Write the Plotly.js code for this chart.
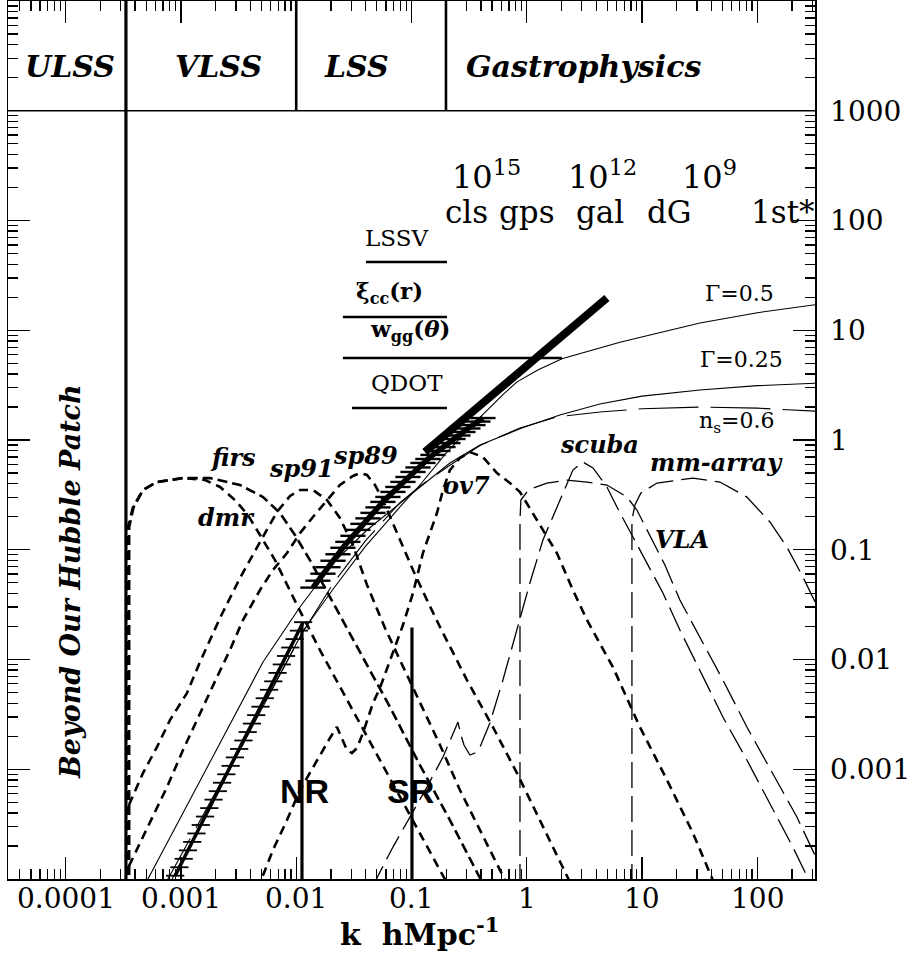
<!DOCTYPE html>
<html>
<head>
<meta charset="utf-8">
<script src="https://cdn.plot.ly/plotly-3.0.1.min.js"></script>
<style>html,body{margin:0;padding:0;background:#fff;}</style>
</head>
<body>
<div id="chart" style="width:913px;height:959px"></div>
<script>
// All curves are stored as log10(k [h/Mpc]) and log10(amplitude).
const pw = a => a.map(v => Math.pow(10, v));

// ---- model spectra ----
const gam05LogK = [-3.15, -3.077, -2.5, -1.941, -1.681, -1.4, -1.1, -0.927, -0.7, -0.45, -0.2, -0.085, 0.1, 0.305, 0.808, 1.502, 2.0, 2.55];
const gam05LogA = [-4.15, -4.0, -2.85, -1.74, -1.36, -0.97, -0.61, -0.41, -0.12, 0.16, 0.42, 0.53, 0.64, 0.74, 0.89, 1.066, 1.16, 1.24];

const gam025LogK = [-3.35, -3.286, -2.835, -2.288, -1.967, -1.681, -1.386, -1.1, -0.927, -0.667, -0.406, -0.042, 0.287, 0.634, 1.0, 1.502, 2.0, 2.55];
const gam025LogA = [-4.13, -4.0, -3.107, -2.023, -1.522, -1.121, -0.82, -0.58, -0.435, -0.21, -0.046, 0.109, 0.228, 0.328, 0.4, 0.455, 0.495, 0.52];

const tiltLogK = [-3.17, -3.112, -2.6, -1.941, -1.681, -1.4, -1.1, -0.927, -0.667, -0.406, -0.059, 0.261, 0.634, 1.0, 1.5, 2.0, 2.55];
const tiltLogA = [-4.11, -4.0, -3.02, -1.75, -1.31, -0.92, -0.57, -0.42, -0.23, -0.05, 0.11, 0.21, 0.255, 0.285, 0.3, 0.29, 0.26];

// ---- survey measurements ----
const lowDataLogK = [-3.05, -3.013, -2.976, -2.939, -2.902, -2.865, -2.828, -2.791, -2.754, -2.717, -2.68, -2.643, -2.606, -2.569, -2.532, -2.495, -2.458, -2.421, -2.384, -2.347, -2.31, -2.273, -2.236, -2.199, -2.162, -2.125, -2.088, -2.051, -2.014, -1.977, -1.94];
const lowDataLogA = [-3.97, -3.893, -3.816, -3.739, -3.662, -3.585, -3.508, -3.431, -3.354, -3.277, -3.2, -3.123, -3.046, -2.969, -2.892, -2.815, -2.738, -2.661, -2.584, -2.507, -2.43, -2.353, -2.276, -2.199, -2.122, -2.045, -1.968, -1.891, -1.814, -1.737, -1.66];

const midDataLogK = [-1.855, -1.812, -1.768, -1.725, -1.681, -1.638, -1.595, -1.552, -1.508, -1.465, -1.421, -1.378, -1.334, -1.291, -1.248, -1.205, -1.161, -1.118, -1.074, -1.031, -0.987, -0.944, -0.901, -0.858, -0.814, -0.771, -0.727, -0.684, -0.64, -0.597, -0.554, -0.511, -0.467, -0.424, -0.38];
const midDataLogA = [-1.345, -1.282, -1.218, -1.159, -1.1, -1.041, -0.982, -0.928, -0.873, -0.819, -0.764, -0.714, -0.664, -0.614, -0.564, -0.519, -0.473, -0.428, -0.382, -0.337, -0.291, -0.25, -0.209, -0.173, -0.136, -0.1, -0.064, -0.028, 0.009, 0.041, 0.073, 0.105, 0.136, 0.168, 0.2];

const lssvFitLogK = [-0.884, 0.695];
const lssvFitLogA = [-0.11, 1.294];

// ---- experiment window functions ----
const dmrLogK = [-3.459, -3.459, -3.416, -3.329, -3.208, -2.982, -2.791, -2.661, -2.531, -2.419, -2.314, -2.184, -1.993, -1.794, -1.534, -1.274, -1.013, -0.71, -0.649];
const dmrLogA = [-4.1, -0.793, -0.611, -0.456, -0.383, -0.347, -0.365, -0.428, -0.547, -0.684, -0.866, -1.094, -1.504, -1.914, -2.415, -2.916, -3.417, -3.991, -4.12];

const firsLogK = [-3.449, -3.449, -3.41, -3.329, -3.208, -2.982, -2.748, -2.488, -2.288, -2.141, -2.011, -1.881, -1.707, -1.447, -1.187, -0.927, -0.667, -0.406, -0.354];
const firsLogA = [-4.1, -0.793, -0.611, -0.456, -0.383, -0.347, -0.347, -0.41, -0.52, -0.665, -0.866, -1.094, -1.431, -1.932, -2.433, -2.962, -3.463, -3.991, -4.1];

const sp91LogK = [-3.451, -3.329, -3.208, -3.095, -2.948, -2.835, -2.661, -2.488, -2.314, -2.167, -2.054, -1.967, -1.855, -1.733, -1.621, -1.508, -1.386, -1.23, -1.1, -0.927, -0.753, -0.58, -0.406, -0.19, -0.146];
const sp91LogA = [-3.326, -3.035, -2.798, -2.552, -2.306, -2.023, -1.622, -1.258, -0.93, -0.656, -0.51, -0.456, -0.456, -0.547, -0.711, -0.957, -1.321, -1.713, -2.005, -2.397, -2.779, -3.189, -3.554, -4.009, -4.1];

const sp89LogK = [-3.451, -3.286, -3.121, -2.982, -2.835, -2.687, -2.575, -2.462, -2.314, -2.202, -2.08, -1.967, -1.855, -1.733, -1.621, -1.508, -1.447, -1.386, -1.317, -1.248, -1.1, -0.987, -0.866, -0.753, -0.519, -0.294, -0.085, 0.114, 0.357, 0.4];
const sp89LogA = [-3.882, -3.527, -3.162, -2.825, -2.488, -2.16, -1.914, -1.64, -1.367, -1.185, -1.03, -0.848, -0.702, -0.547, -0.41, -0.328, -0.301, -0.319, -0.41, -0.547, -0.911, -1.185, -1.458, -1.704, -2.187, -2.615, -3.035, -3.463, -3.991, -4.1];

const ov7LogK = [-2.332, -2.297, -2.202, -2.08, -1.967, -1.82, -1.707, -1.647, -1.612, -1.56, -1.517, -1.473, -1.421, -1.334, -1.274, -1.161, -1.074, -0.987, -0.901, -0.779, -0.727, -0.667, -0.58, -0.493, -0.38, -0.259, -0.146, -0.059, 0.088, 0.261, 0.4, 0.522, 0.747, 0.981, 1.216, 1.441, 1.606, 1.641];
const ov7LogA = [-4.1, -3.991, -3.736, -3.463, -3.189, -2.916, -2.715, -2.615, -2.697, -2.825, -2.852, -2.807, -2.67, -2.397, -2.26, -1.941, -1.686, -1.394, -1.03, -0.665, -0.456, -0.274, -0.164, -0.11, -0.155, -0.301, -0.392, -0.474, -0.729, -1.03, -1.367, -1.64, -2.069, -2.615, -3.098, -3.581, -3.991, -4.1];

const scubaLogK = [-1.343, -1.3, -1.161, -1.013, -0.866, -0.727, -0.649, -0.597, -0.571, -0.545, -0.493, -0.45, -0.406, -0.32, -0.207, -0.059, 0.027, 0.14, 0.227, 0.313, 0.4, 0.487, 0.574, 0.695, 0.782, 0.921, 1.042, 1.181, 1.328, 1.528, 1.701, 1.909, 2.109, 2.308, 2.438, 2.482];
const scubaLogA = [-4.1, -3.991, -3.709, -3.435, -3.162, -2.889, -2.688, -2.57, -2.688, -2.779, -2.87, -2.852, -2.798, -2.579, -2.187, -1.64, -1.303, -0.911, -0.702, -0.483, -0.274, -0.201, -0.255, -0.428, -0.611, -0.884, -1.121, -1.394, -1.731, -2.16, -2.524, -2.916, -3.308, -3.709, -3.991, -4.1];

const vlaLogK = [-0.059, -0.059, -0.051, 0.001, 0.053, 0.175, 0.348, 0.522, 0.695, 0.869, 0.955, 1.068, 1.198, 1.328, 1.502, 1.701, 1.909, 2.135, 2.343, 2.499, 2.586];
const vlaLogA = [-4.1, -0.729, -0.547, -0.474, -0.438, -0.392, -0.365, -0.383, -0.41, -0.52, -0.638, -0.866, -1.139, -1.458, -1.795, -2.187, -2.615, -3.035, -3.435, -3.782, -3.96];

const mmLogK = [0.912, 0.912, 0.938, 0.99, 1.129, 1.441, 1.675, 1.909, 2.109, 2.256, 2.395, 2.499, 2.586];
const mmLogA = [-4.1, -0.729, -0.592, -0.483, -0.392, -0.347, -0.383, -0.52, -0.747, -0.975, -1.248, -1.476, -1.66];

// ---- survey k-ranges: [logK start, logK end, logA] ----
const surveyNames = ['LSSV', 'xi', 'wgg', 'QDOT'];
const surveyLogK0 = [-1.395, -1.595, -1.595, -1.517];
const surveyLogK1 = [-0.692, -0.692, 0.305, -0.692];
const surveyLogA = [1.622, 1.121, 0.747, 0.291];

// ---- reference scales ----
const horizonLogK = -3.477;
const nrLogK = -1.95, nrTopLogA = -1.672;
const srLogK = -0.996, srTopLogA = -1.709;
const bandDividersLogK = [-2.0, -0.701];
const bandFloorLogA = 3;

const traces = [];
function addLine(lk, la, line, extra) {
  traces.push(Object.assign({
    x: pw(lk), y: pw(la), mode: 'lines', line: line,
    hoverinfo: 'skip', showlegend: false, cliponaxis: true
  }, extra || {}));
}
const shortDash = {color: '#000', width: 2.6, dash: '9px,6px'};
const longDash = {color: '#000', width: 1.3, dash: '26px,8px'};

// windows
addLine(dmrLogK, dmrLogA, shortDash);
addLine(firsLogK, firsLogA, Object.assign({}, shortDash, {dash: '10px,5px'}));
addLine(sp91LogK, sp91LogA, shortDash);
addLine(sp89LogK, sp89LogA, shortDash);
addLine(ov7LogK, ov7LogA, shortDash);
addLine(scubaLogK, scubaLogA, longDash);
addLine(vlaLogK, vlaLogA, longDash);
addLine(mmLogK, mmLogA, longDash);

// models
addLine(gam05LogK, gam05LogA, {color: '#000', width: 1.1});
addLine(gam025LogK, gam025LogA, {color: '#000', width: 1.1});
addLine(tiltLogK, tiltLogA, {color: '#000', width: 1.1, dash: '60px,12px'});

// horizon, band frame, NR / SR markers
addLine([horizonLogK, horizonLogK], [-4.1, 4.1], {color: '#000', width: 3.2});
addLine([-4.6, 2.6], [bandFloorLogA, bandFloorLogA], {color: '#000', width: 1.6});
bandDividersLogK.forEach(k => addLine([k, k], [bandFloorLogA, 4.1], {color: '#000', width: 2.6}));
addLine([nrLogK, nrLogK], [-4.1, nrTopLogA], {color: '#000', width: 3.2});
addLine([srLogK, srLogK], [-4.1, srTopLogA], {color: '#000', width: 3.2});

// survey ranges
surveyNames.forEach((n, i) => addLine([surveyLogK0[i], surveyLogK1[i]], [surveyLogA[i], surveyLogA[i]], {color: '#000', width: 2.4}));

// measured points with error bars
const barMarker = {symbol: 'line-ew', size: 13, color: '#000', line: {color: '#000', width: 1.8}};
traces.push({x: pw(lowDataLogK), y: pw(lowDataLogA), mode: 'lines+markers', line: {color: '#000', width: 3.5},
  marker: barMarker, hoverinfo: 'skip', showlegend: false});
traces.push({x: pw(midDataLogK), y: pw(midDataLogA), mode: 'lines+markers', line: {color: '#000', width: 5.5},
  marker: Object.assign({}, barMarker, {size: 18, line: {color: '#000', width: 2.4}}), hoverinfo: 'skip', showlegend: false});
addLine(lssvFitLogK, lssvFitLogA, {color: '#000', width: 8});

// ---- axis ticks ----
const xMajor = [1e-4, 1e-3, 1e-2, 0.1, 1, 10, 100];
const xMajorText = ['0.0001', '0.001', '0.01', '0.1', '1', '10', '100'];
const yMajor = [1e-3, 1e-2, 0.1, 1, 10, 100, 1000];
const yMajorText = ['0.001', '0.01', '0.1', '1', '10', '100', '1000'];
function minorTicks(d0, d1) {
  const t = [];
  for (let d = d0; d <= d1; d++) for (let m = 2; m <= 9; m++) t.push(m * Math.pow(10, d));
  return t;
}

const serif = 'DejaVu Serif, Liberation Serif, serif';
function lab(text, lk, la, size, font, extra) {
  return Object.assign({
    x: lk, y: la, xref: 'x', yref: 'y', text: text, showarrow: false,
    xanchor: 'center', yanchor: 'middle',
    font: Object.assign({family: serif, size: size, color: '#000'}, font || {})
  }, extra || {});
}
const bi = {weight: 'bold', style: 'italic'};

const annotations = [
  // regimes
  lab('ULSS', -3.962, 3.399, 30, bi),
  lab('VLSS', -2.67, 3.399, 30, bi),
  lab('LSS', -1.473, 3.399, 30, bi),
  lab('Gastrophysics', 0.496, 3.399, 30, bi),
  // mass scales
  lab('10<sup>15</sup>', -0.346, 2.415, 32),
  lab('10<sup>12</sup>', 0.66, 2.415, 32),
  lab('10<sup>9</sup>', 1.588, 2.415, 32),
  lab('cls', -0.519, 2.077, 31),
  lab('gps', 0.001, 2.077, 31),
  lab('gal', 0.634, 2.077, 31),
  lab('dG', 1.242, 2.077, 31),
  lab('1st*', 2.222, 2.077, 31),
  // surveys
  lab('LSSV', -1.126, 1.84, 23),
  lab('ξ<sub>cc</sub>(r)', -1.187, 1.348, 23, {weight: 'bold'}),
  lab('w<sub>gg</sub>(<i>θ</i>)', -1.013, 1.002, 23, {weight: 'bold'}),
  lab('QDOT', -1.039, 0.519, 23),
  // models
  lab('Γ=0.5', 1.849, 1.339, 22),
  lab('Γ=0.25', 1.866, 0.729, 22),
  lab('n<sub>s</sub>=0.6', 1.823, 0.155, 22),
  // experiments
  lab('firs', -2.549, -0.155, 24, bi),
  lab('dmr', -2.601, -0.702, 24, bi),
  lab('sp91', -1.95, -0.264, 24, bi),
  lab('sp89', -1.395, -0.137, 24, bi),
  lab('ov7', -0.519, -0.419, 24, bi),
  lab('scuba', 0.634, -0.037, 24, bi),
  lab('mm-array', 1.649, -0.201, 24, bi),
  lab('VLA', 1.346, -0.911, 24, bi),
  lab('NR', -1.924, -3.198, 34, {family: 'Liberation Sans, Arial, sans-serif', weight: 'bold'}),
  lab('SR', -1.005, -3.198, 34, {family: 'Liberation Sans, Arial, sans-serif', weight: 'bold'}),
  lab('Beyond Our Hubble Patch', -3.962, -1.294, 27, bi, {textangle: -90}),
  // axis title
  {x: 0.5105, y: -0.0605, xref: 'paper', yref: 'paper', showarrow: false, xanchor: 'center', yanchor: 'middle',
   text: 'k  hMpc<sup>-1</sup>', font: {family: serif, size: 30, color: '#000', weight: 'bold'}}
];
// bottom tick labels
xMajor.forEach((v, i) => annotations.push({
  x: Math.log10(v), y: -0.0225, xref: 'x', yref: 'paper', showarrow: false,
  xanchor: 'center', yanchor: 'middle', text: xMajorText[i],
  font: {family: serif, size: 28, color: '#000'}
}));

const axisCommon = {
  type: 'log', showgrid: false, zeroline: false, showline: true, linecolor: '#000', linewidth: 1.5,
  mirror: 'ticks', ticks: 'inside', ticklen: 22, tickwidth: 1.3, tickcolor: '#000',
  tickmode: 'array', tickfont: {family: serif, size: 28, color: '#000'}
};

const layout = {
  width: 913, height: 959,
  margin: {l: 8, r: 98, t: 1, b: 80},
  paper_bgcolor: '#fff', plot_bgcolor: '#fff',
  showlegend: false, hovermode: false,
  xaxis: Object.assign({}, axisCommon, {
    range: [-4.5, 2.5], tickvals: xMajor, ticktext: xMajorText, showticklabels: false,
    minor: {ticks: 'inside', ticklen: 10, tickwidth: 1.3, tickcolor: '#000', tickmode: 'array', tickvals: minorTicks(-5, 2)}
  }),
  yaxis: Object.assign({}, axisCommon, {
    range: [-4, 4], side: 'right', tickvals: yMajor, ticktext: yMajorText, ticklabelstandoff: 8,
    minor: {ticks: 'inside', ticklen: 10, tickwidth: 1.3, tickcolor: '#000', tickmode: 'array', tickvals: minorTicks(-4, 3)}
  }),
  annotations: annotations
};

Plotly.newPlot('chart', traces, layout, {displayModeBar: false, staticPlot: true});
</script>
</body>
</html>
